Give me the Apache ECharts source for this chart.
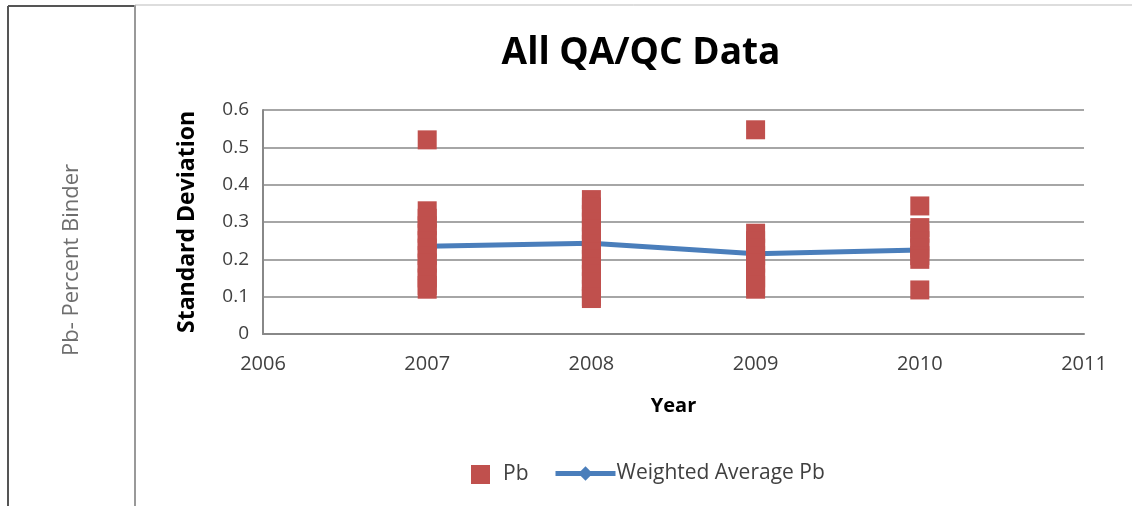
<!DOCTYPE html>
<html>
<head>
<meta charset="utf-8">
<script src="https://cdn.jsdelivr.net/npm/echarts@6/dist/echarts.min.js"></script>
<style>
  html, body { margin: 0; padding: 0; background: #fff; }
  #board { width: 1132px; height: 506px; }
</style>
</head>
<body>
<div id="board"></div>
<script>
// years and values
const years = [2007, 2008, 2009, 2010];
const pb2007 = [0.52, 0.33, 0.31, 0.29, 0.27, 0.25, 0.23, 0.21, 0.19, 0.17, 0.15, 0.13, 0.12];
const pb2008 = [0.36, 0.34, 0.32, 0.30, 0.28, 0.26, 0.24, 0.22, 0.20, 0.18, 0.16, 0.14, 0.12, 0.10, 0.095];
const pb2009 = [0.547, 0.27, 0.25, 0.23, 0.21, 0.19, 0.17, 0.15, 0.13, 0.12];
const pb2010 = [0.343, 0.285, 0.27, 0.25, 0.23, 0.21, 0.20, 0.118];
const weightedAvg = [0.235, 0.243, 0.215, 0.225];
const yTicks = [0, 0.1, 0.2, 0.3, 0.4, 0.5, 0.6];

const pbPoints = [];
[pb2007, pb2008, pb2009, pb2010].forEach(function (vals, i) {
  vals.forEach(function (v) { pbPoints.push([years[i], v]); });
});
const avgPoints = years.map(function (y, i) { return [y, weightedAvg[i]]; });

const font = '"Open Sans", "Liberation Sans", sans-serif';
const chart = echarts.init(document.getElementById('board'));
chart.setOption({
  animation: false,
  textStyle: { fontFamily: font },
  title: {
    text: 'All QA/QC Data',
    left: 636, top: 30, textAlign: 'center',
    textStyle: { fontSize: 37, fontWeight: 'bold', color: '#000', fontFamily: font }
  },
  graphic: [
    { type: 'line', shape: { x1: 8, y1: 6, x2: 8, y2: 506 }, style: { stroke: '#555', lineWidth: 2 } },
    { type: 'line', shape: { x1: 8, y1: 6, x2: 134, y2: 6 }, style: { stroke: '#555', lineWidth: 2 } },
    { type: 'line', shape: { x1: 135, y1: 5, x2: 135, y2: 506 }, style: { stroke: '#999', lineWidth: 2 } },
    { type: 'line', shape: { x1: 135, y1: 5, x2: 1132, y2: 5 }, style: { stroke: '#bbb', lineWidth: 1 } },
    {
      type: 'text', x: 72, y: 260, rotation: Math.PI / 2,
      style: { text: 'Pb- Percent Binder', fill: '#6e6e6e', font: '22px ' + font, align: 'center', verticalAlign: 'middle' }
    }
  ],
  grid: { left: 263, right: 48, top: 110, bottom: 172 },
  legend: [
    {
      left: 466, top: 459, itemWidth: 19, itemHeight: 19, itemGap: 10,
      textStyle: { fontSize: 21, color: '#404040', fontFamily: font, padding: [0, 0, 0, 8] },
      data: [{ name: 'Pb', icon: 'rect', itemStyle: { color: '#c0504d' } }]
    },
    {
      left: 548, top: 458, itemWidth: 60, itemHeight: 18, itemGap: 10,
      textStyle: { fontSize: 21, color: '#404040', fontFamily: font, padding: [0, 0, 0, -4] },
      data: [{
        name: 'Weighted Average Pb',
        lineStyle: { width: 5, color: '#4a7ebb' },
        itemStyle: { color: '#4a7ebb' }
      }]
    }
  ],
  xAxis: {
    type: 'value', min: 2006, max: 2011, interval: 1,
    name: 'Year', nameLocation: 'middle', nameGap: 62,
    nameTextStyle: { fontSize: 20, fontWeight: 'bold', color: '#000' },
    axisLine: { show: true, lineStyle: { color: '#888', width: 2 } },
    axisTick: { show: false },
    splitLine: { show: false },
    axisLabel: { fontSize: 20, color: '#404040', margin: 20, formatter: function (v) { return String(v); } }
  },
  yAxis: {
    type: 'value', min: 0, max: 0.6, interval: 0.1,
    name: 'Standard Deviation', nameLocation: 'middle', nameGap: 64,
    nameTextStyle: { fontSize: 23, fontWeight: 'bold', color: '#000' },
    axisLine: { show: true, lineStyle: { color: '#888', width: 2 } },
    axisTick: { show: false },
    splitLine: { lineStyle: { color: '#a6a6a6', width: 2 } },
    axisLabel: {
      fontSize: 19, color: '#404040', margin: 14,
      formatter: function (v) { return yTicks.indexOf(+v.toFixed(1)) >= 0 ? String(+v.toFixed(1)) : ''; }
    }
  },
  series: [
    {
      name: 'Pb', type: 'scatter', symbol: 'rect', symbolSize: 19, z: 3,
      itemStyle: { color: '#c0504d', opacity: 1 },
      data: pbPoints
    },
    {
      name: 'Weighted Average Pb', type: 'line', symbol: 'diamond', symbolSize: 12, z: 2,
      lineStyle: { color: '#4a7ebb', width: 5 },
      itemStyle: { color: '#4a7ebb' },
      data: avgPoints
    }
  ]
});
</script>
</body>
</html>
